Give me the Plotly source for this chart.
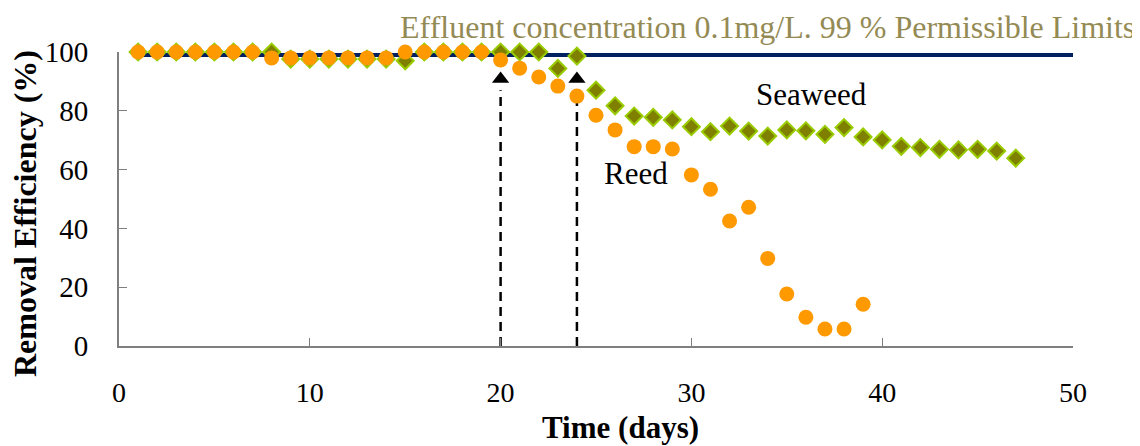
import plotly.graph_objects as go

days_reed = list(range(1, 40))
reed = [100, 100, 100, 100, 100, 100, 100,
        98, 98, 98, 98, 98, 98, 98,
        100, 100, 100, 100, 100,
        97.3, 94.5, 91.5, 88.4, 85.0, 78.5, 73.5, 67.8, 67.8, 67.0,
        58.2, 53.3, 42.5, 47.2, 29.8, 17.7, 9.8, 5.8, 5.8, 14.2]

days_sea = list(range(1, 48))
seaweed = [100, 100, 100, 100, 100, 100, 100,
           100, 97.6, 97.6, 97.6, 97.6, 97.6, 97.6, 97.0,
           100, 100, 100, 100, 100, 100, 100,
           94.4, 98.6, 87.0, 81.7, 78.2, 77.8, 76.9, 74.6, 72.9, 74.8,
           73.1, 71.4, 73.5, 73.2, 72.0, 74.3, 71.1, 70.1, 67.9, 67.5,
           66.9, 66.7, 66.9, 66.3, 63.9]

limit_x = [1, 50]
limit_y = [99, 99]

arrow_days = [20, 24]
arrow_top = 87
arrow_tip = 90.8

x_ticks = [0, 10, 20, 30, 40, 50]
y_ticks = [0, 20, 40, 60, 80, 100]

SERIF = "Liberation Serif, Times New Roman, serif"

# page body has an 8px default margin; compensate
W, H = 1132, 438
L, T, R, B = 111, 44, 67, 100
plot_w = W - L - R
plot_h = H - T - B

def px_x(p):
    return (p - 8 - L) / plot_w

def px_y(p):
    return 1 - (p - 8 - T) / plot_h

fig = go.Figure()

fig.add_trace(go.Scatter(x=limit_x, y=limit_y, mode="lines",
                         line=dict(color="#002060", width=4),
                         showlegend=False, cliponaxis=False))

for d in arrow_days:
    fig.add_trace(go.Scatter(x=[d, d], y=[0, arrow_top], mode="lines",
                             line=dict(color="black", width=2.5, dash="9px,6px"),
                             showlegend=False, cliponaxis=False))
fig.add_trace(go.Scatter(x=arrow_days, y=[arrow_tip] * len(arrow_days), mode="markers",
                         marker=dict(symbol="triangle-up", size=15, color="black"),
                         showlegend=False, cliponaxis=False))

fig.add_trace(go.Scatter(x=days_sea, y=seaweed, mode="markers",
                         marker=dict(symbol="diamond", size=13, color="#808000",
                                     line=dict(color="#99CC00", width=2)),
                         name="Seaweed", showlegend=False, cliponaxis=False))

fig.add_trace(go.Scatter(x=days_reed, y=reed, mode="markers",
                         marker=dict(symbol="circle", size=15, color="#FF9900",
                                     line=dict(width=0)),
                         name="Reed", showlegend=False, cliponaxis=False))

fig.add_annotation(x=px_x(1137), xref="paper", xanchor="right",
                   y=px_y(27), yref="paper", yanchor="middle",
                   text="Effluent concentration 0.1mg/L. 99 % Permissible Limits",
                   showarrow=False, font=dict(family=SERIF, size=32, color="#948A54"))

fig.add_annotation(x=36.3, y=85.4, text="Seaweed", showarrow=False,
                   font=dict(family=SERIF, size=31, color="black"))
fig.add_annotation(x=27.1, y=58.8, text="Reed", showarrow=False,
                   font=dict(family=SERIF, size=31, color="black"))

fig.add_annotation(x=px_x(25), xref="paper", xanchor="center",
                   y=px_y(214), yref="paper", yanchor="middle", textangle=-90,
                   text="<b>Removal Efficiency (%)</b>", showarrow=False,
                   font=dict(family=SERIF, size=32, color="black"))

fig.add_annotation(x=px_x(620), xref="paper", xanchor="center",
                   y=px_y(427), yref="paper", yanchor="middle",
                   text="<b>Time (days)</b>", showarrow=False,
                   font=dict(family=SERIF, size=31, color="black"))

fig.update_layout(
    width=W, height=H,
    margin=dict(l=L, r=R, t=T, b=B),
    paper_bgcolor="white", plot_bgcolor="white",
    font=dict(family=SERIF, color="black"),
    xaxis=dict(range=[0, 50], tickvals=x_ticks, ticks="inside", ticklen=8,
               tickcolor="#7f7f7f", showline=True, linecolor="#7f7f7f", linewidth=2,
               showgrid=False, zeroline=False, tickfont=dict(size=28, family=SERIF),
               ticklabelstandoff=20, automargin=False),
    yaxis=dict(range=[0, 100], tickvals=y_ticks, ticks="inside", ticklen=8,
               tickcolor="#7f7f7f", showline=True, linecolor="#7f7f7f", linewidth=2,
               showgrid=False, zeroline=False, tickfont=dict(size=29, family=SERIF),
               ticklabelstandoff=23, automargin=False),
)

fig.write_html("out.html")
